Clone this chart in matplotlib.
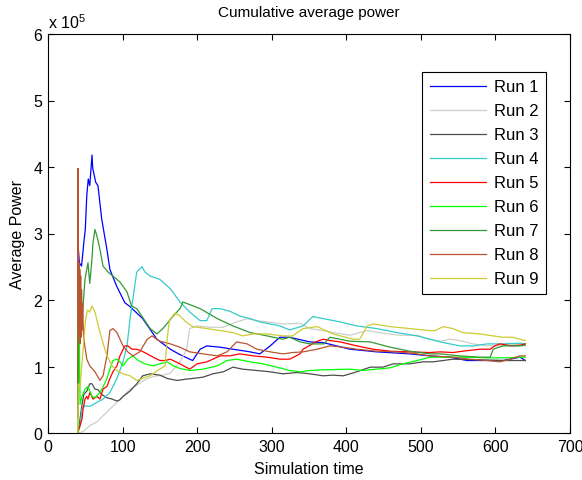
import matplotlib
matplotlib.use("Agg")
import matplotlib.pyplot as plt

plt.rcParams['font.family'] = ['Liberation Sans', 'DejaVu Sans']
plt.rcParams['mathtext.fontset'] = 'custom'
plt.rcParams['mathtext.rm'] = 'Liberation Sans'

# values in units of 1e5
run1_x = [40, 40.5, 42, 45, 48, 50, 52, 54, 56, 59, 60, 64, 67, 72, 79, 83, 92, 103, 110, 127, 146, 164,
          175, 190, 194, 204, 213, 231, 248, 271, 284, 298, 311, 324, 351, 369, 405, 441, 485, 512, 539,
          562, 610, 633, 640]
run1_y = [0.84, 2.81, 2.56, 2.51, 2.86, 3.06, 3.57, 3.82, 3.72, 4.18, 3.98, 3.77, 3.72, 3.22, 2.76, 2.46,
          2.21, 1.96, 1.9, 1.72, 1.41, 1.26, 1.19, 1.11, 1.09, 1.26, 1.31, 1.29, 1.26, 1.22, 1.19, 1.31,
          1.44, 1.44, 1.37, 1.36, 1.26, 1.22, 1.19, 1.16, 1.14, 1.09, 1.09, 1.14, 1.09]

run2_x = [40, 47, 56, 66, 74, 83, 92.5, 100.6, 110, 119, 130, 141, 154, 164, 177, 186, 190, 200, 217, 235,
          253, 267, 280, 294, 315, 338, 351, 369, 388, 405, 428, 449, 472, 495, 512, 526, 539, 552, 570,
          589, 610, 633, 640]
run2_y = [0.0, 0.02, 0.11, 0.17, 0.26, 0.36, 0.46, 0.55, 0.66, 0.72, 0.8, 0.85, 0.87, 0.9, 1.07, 1.26,
          1.57, 1.61, 1.59, 1.59, 1.67, 1.72, 1.69, 1.67, 1.64, 1.65, 1.57, 1.54, 1.5, 1.47, 1.54, 1.5,
          1.47, 1.47, 1.41, 1.38, 1.41, 1.39, 1.34, 1.31, 1.31, 1.34, 1.32]

run3_x = [40, 42, 45, 48, 52, 56, 59, 63, 67, 72, 79, 86, 92.5, 96.5, 100.6, 110, 119, 127, 137, 150, 160,
          173, 185, 194, 208, 221, 235, 248, 261, 280, 298, 315, 334, 351, 369, 382, 396, 414, 432, 449,
          463, 485, 503, 516, 530, 543, 580, 610, 640]
run3_y = [0.0, 0.13, 0.38, 0.58, 0.63, 0.74, 0.74, 0.66, 0.65, 0.58, 0.53, 0.51, 0.48, 0.5, 0.55, 0.63,
          0.74, 0.86, 0.89, 0.87, 0.82, 0.79, 0.81, 0.82, 0.84, 0.89, 0.92, 0.99, 0.96, 0.94, 0.92, 0.89,
          0.91, 0.89, 0.86, 0.87, 0.86, 0.92, 0.99, 0.99, 1.04, 1.04, 1.07, 1.07, 1.09, 1.11, 1.1, 1.09,
          1.09]

run4_x = [40, 43, 45.6, 49.6, 56, 65.7, 73.8, 83, 92.5, 100.6, 106, 110, 113, 119, 126, 130, 137, 150,
          164, 177, 190, 204, 213, 220, 231, 244, 257, 271, 284, 298, 311, 324, 342, 355, 369, 392, 414,
          441, 468, 495, 512, 526, 552, 570, 589, 610, 633, 640]
run4_y = [0.0, 0.11, 0.36, 0.41, 0.4, 0.46, 0.51, 0.61, 0.82, 1.07, 1.31, 1.72, 1.95, 2.42, 2.5, 2.42,
          2.36, 2.31, 2.17, 1.97, 1.82, 1.69, 1.69, 1.87, 1.87, 1.83, 1.76, 1.72, 1.67, 1.64, 1.61, 1.55,
          1.61, 1.75, 1.72, 1.67, 1.61, 1.57, 1.51, 1.46, 1.41, 1.37, 1.31, 1.31, 1.34, 1.34, 1.35, 1.34]

run5_x = [40, 40.2, 43, 45.6, 47, 49.6, 52, 53.6, 56.3, 60.3, 65.7, 69.7, 73.8, 79, 83, 87, 92.5, 96.5,
          103, 107, 112.6, 119, 126, 133, 141, 150, 157, 164, 177, 190, 200, 213, 221, 231, 244, 257,
          275, 294, 311, 324, 338, 342, 361, 369, 378, 392, 414, 436, 459, 485, 512, 526, 543, 556, 579,
          593, 599, 606, 622, 633, 640]
run5_y = [0.0, 0.02, 0.11, 0.21, 0.36, 0.51, 0.55, 0.51, 0.61, 0.51, 0.55, 0.51, 0.66, 0.7, 0.82, 0.92,
          1.01, 1.16, 1.31, 1.31, 1.26, 1.26, 1.23, 1.19, 1.14, 1.09, 1.09, 1.11, 1.04, 0.96, 1.04, 1.07,
          1.11, 1.16, 1.16, 1.19, 1.16, 1.14, 1.11, 1.11, 1.19, 1.26, 1.38, 1.41, 1.39, 1.37, 1.31, 1.26,
          1.23, 1.22, 1.21, 1.22, 1.21, 1.23, 1.26, 1.26, 1.31, 1.34, 1.31, 1.32, 1.34]

run6_x = [40, 40.3, 41, 42, 43, 45.6, 49.6, 53.6, 59, 63, 69.7, 73.8, 79, 83, 87, 92.5, 96.5, 100.6, 107,
          114, 121, 130, 141, 150, 160, 168, 177, 190, 208, 227, 240, 253, 271, 288, 307, 324, 338, 351,
          369, 405, 422, 459, 476, 495, 512, 526, 539, 566, 589, 615, 633, 640]
run6_y = [0.0, 1.95, 0.74, 1.44, 0.43, 0.55, 0.66, 0.7, 0.55, 0.53, 0.61, 0.69, 0.82, 0.96, 1.09, 1.11,
          1.07, 1.01, 1.11, 1.16, 1.09, 1.04, 1.01, 1.04, 1.07, 1.01, 0.97, 0.94, 0.96, 1.01, 1.09, 1.11,
          1.07, 1.04, 0.99, 0.94, 0.92, 0.94, 0.95, 0.96, 0.94, 0.98, 1.04, 1.09, 1.14, 1.14, 1.14, 1.14,
          1.13, 1.13, 1.14, 1.14]

run7_x = [40, 41, 43, 47, 49.6, 53.6, 56, 59, 60.3, 63, 65.7, 69.7, 73.8, 80.5, 87, 96.5, 106, 112, 119,
          137, 146, 154, 168, 177, 181, 204, 227, 248, 271, 294, 315, 324, 338, 351, 370, 378, 405, 432,
          459, 485, 512, 526, 552, 579, 593, 597, 610, 633, 640]
run7_y = [0.43, 1.95, 1.44, 1.91, 2.31, 2.56, 2.25, 2.62, 2.86, 3.06, 2.96, 2.76, 2.51, 2.42, 2.36, 2.27,
          2.12, 1.91, 1.87, 1.57, 1.49, 1.57, 1.76, 1.87, 1.97, 1.87, 1.72, 1.61, 1.51, 1.46, 1.41, 1.44,
          1.37, 1.34, 1.34, 1.44, 1.38, 1.37, 1.29, 1.23, 1.19, 1.19, 1.16, 1.14, 1.14, 1.26, 1.31, 1.31,
          1.32]

run8_x = [40, 40.2, 40.6, 41, 41.5, 42, 42.6, 43.2, 43.8, 44.4, 45, 45.8, 46.5, 47.5, 49, 52, 56, 63,
          69.7, 73.8, 79, 83, 87, 92.5, 96.5, 100.6, 107, 114, 123, 133, 139.5, 150, 164, 177, 190, 208,
          227, 240, 253, 267, 280, 298, 315, 328, 342, 361, 378, 396, 414, 441, 468, 495, 512, 543, 566,
          589, 606, 620, 633, 640]
run8_y = [0.23, 3.98, 2.71, 1.55, 2.56, 1.44, 2.46, 1.34, 2.36, 1.44, 2.15, 1.55, 1.95, 1.49, 1.34, 1.11,
          1.01, 0.92, 0.79, 0.86, 1.16, 1.54, 1.57, 1.51, 1.41, 1.31, 1.22, 1.16, 1.22, 1.41, 1.46, 1.38,
          1.34, 1.29, 1.22, 1.19, 1.16, 1.22, 1.37, 1.34, 1.26, 1.22, 1.19, 1.21, 1.22, 1.26, 1.31, 1.29,
          1.26, 1.23, 1.22, 1.19, 1.16, 1.14, 1.11, 1.09, 1.07, 1.11, 1.16, 1.16]

run9_x = [40, 40.5, 43, 47, 50, 53, 56, 59, 63, 69.7, 79, 86, 92.5, 100.6, 110, 119, 126, 137, 147, 157,
          160, 163, 170, 176, 185, 194, 213, 231, 248, 261, 275, 294, 315, 328, 342, 361, 382, 409, 418,
          428, 436, 459, 485, 512, 519, 530, 543, 556, 579, 597, 610, 623, 633, 640]
run9_y = [0.0, 0.74, 0.69, 1.24, 1.67, 1.85, 1.82, 1.91, 1.82, 1.51, 1.16, 1.01, 0.94, 0.89, 0.86, 0.79,
          0.82, 0.86, 0.94, 1.01, 1.44, 1.7, 1.8, 1.77, 1.67, 1.6, 1.57, 1.54, 1.51, 1.46, 1.49, 1.49,
          1.46, 1.46, 1.57, 1.6, 1.49, 1.41, 1.41, 1.61, 1.64, 1.6, 1.57, 1.54, 1.54, 1.6, 1.57, 1.51,
          1.49, 1.46, 1.44, 1.44, 1.41, 1.39]

runs = [(run1_x, run1_y), (run2_x, run2_y), (run3_x, run3_y), (run4_x, run4_y), (run5_x, run5_y),
        (run6_x, run6_y), (run7_x, run7_y), (run8_x, run8_y), (run9_x, run9_y)]
labels = ['Run 1', 'Run 2', 'Run 3', 'Run 4', 'Run 5', 'Run 6', 'Run 7', 'Run 8', 'Run 9']
colors = ['#0000ff', '#cfcfc8', '#4d4d4d', '#33cccc', '#ff0000', '#00ff00', '#339933', '#b85530', '#cccc33']

fig = plt.figure(figsize=(5.82, 4.81), dpi=100)
ax = fig.add_axes([48 / 582, 1 - 434 / 481, 522 / 582, 399 / 481])

for (xs, ys), lab, c in zip(runs, labels, colors):
    ax.plot(xs, ys, color=c, linewidth=0.9, label=lab)

ax.set_xlim(0, 700)
ax.set_ylim(0, 6)
ax.set_xticks(range(0, 701, 100))
ax.set_yticks(range(0, 7))
ax.tick_params(direction='in', length=4, width=0.8, top=True, right=True, labelsize=11.5, pad=4)
for s in ax.spines.values():
    s.set_linewidth(0.8)

ax.set_title('Cumulative average power', fontsize=11, pad=13)
ax.set_xlabel('Simulation time', fontsize=11.5, labelpad=5)
ax.set_ylabel('Average Power', fontsize=11.5, labelpad=6)
ax.text(0.0, 1.008, r'x 10$^{5}$', transform=ax.transAxes, ha='left', va='bottom', fontsize=11.5)

leg = ax.legend(loc='upper right', bbox_to_anchor=(498 / 522, 361 / 399), borderaxespad=0,
                fontsize=12, handlelength=3.4, handletextpad=0.45, labelspacing=0.54,
                borderpad=0.45, fancybox=False, framealpha=1, edgecolor='black')
leg.get_frame().set_linewidth(0.8)

fig.savefig('out.png', dpi=100)
